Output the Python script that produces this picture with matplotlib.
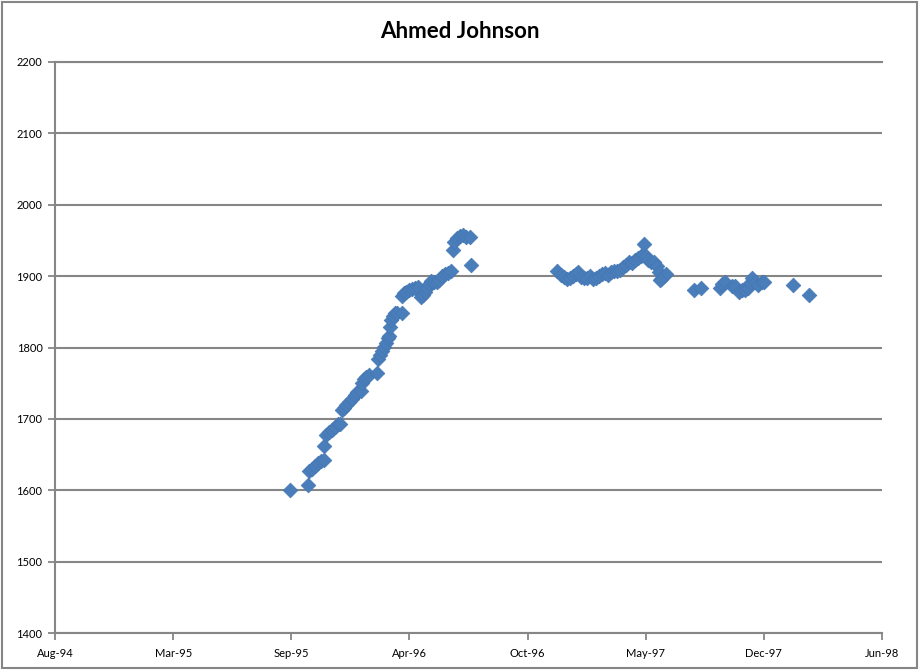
import matplotlib
matplotlib.use("Agg")
import matplotlib.pyplot as plt
import matplotlib.dates as mdates
from matplotlib.patches import Rectangle
import datetime as dt

plt.rcParams['font.family'] = ['Lato', 'DejaVu Sans']

title = "Ahmed Johnson"

dates = [
    "1995-09-22", "1995-10-22", "1995-10-24", "1995-10-29", "1995-11-03", "1995-11-08",
    "1995-11-13", "1995-11-18", "1995-11-18", "1995-11-22", "1995-11-27", "1995-12-02",
    "1995-12-07", "1995-12-12", "1995-12-15", "1995-12-19", "1995-12-22", "1995-12-26",
    "1995-12-31", "1996-01-05", "1996-01-10", "1996-01-13", "1996-01-20", "1996-01-22",
    "1996-01-25", "1996-01-28", "1996-02-03", "1996-02-16", "1996-02-18", "1996-02-21",
    "1996-02-25", "1996-02-28", "1996-03-02", "1996-03-06", "1996-03-07", "1996-03-09",
    "1996-03-11", "1996-03-14", "1996-03-18", "1996-03-21", "1996-03-29", "1996-03-29",
    "1996-04-02", "1996-04-05", "1996-04-10", "1996-04-15", "1996-04-20", "1996-04-26",
    "1996-05-01", "1996-05-04", "1996-05-07", "1996-05-11", "1996-05-14", "1996-05-18",
    "1996-05-23", "1996-05-28", "1996-05-31", "1996-06-05", "1996-06-10", "1996-06-15",
    "1996-06-20", "1996-06-24", "1996-06-25", "1996-07-01", "1996-07-06", "1996-07-11",
    "1996-07-16", "1996-07-22", "1996-07-24",
    "1996-12-17", "1996-12-24", "1996-12-29", "1997-01-03", "1997-01-08", "1997-01-13",
    "1997-01-18", "1997-01-21", "1997-01-26", "1997-02-01", "1997-02-06", "1997-02-11",
    "1997-02-16", "1997-02-21", "1997-02-26", "1997-03-03", "1997-03-08", "1997-03-13",
    "1997-03-18", "1997-03-23", "1997-03-28", "1997-04-02", "1997-04-08", "1997-04-13",
    "1997-04-18", "1997-04-23", "1997-04-28", "1997-05-03", "1997-05-08", "1997-05-11",
    "1997-05-13", "1997-05-17", "1997-05-20", "1997-05-25", "1997-05-30", "1997-06-04",
    "1997-06-08", "1997-06-11", "1997-06-16", "1997-06-19", "1997-06-10",
    "1997-08-06", "1997-08-18", "1997-09-19", "1997-09-22", "1997-09-27", "1997-10-09",
    "1997-10-14", "1997-10-21", "1997-10-26", "1997-10-31", "1997-11-05", "1997-11-09",
    "1997-11-12", "1997-11-17", "1997-11-22", "1997-11-29", "1997-12-02",
    "1998-01-20", "1998-02-16",
]

ratings = [
    1600, 1608, 1627, 1630, 1634, 1638,
    1641, 1642, 1662, 1677, 1682, 1684,
    1689, 1693, 1693, 1712, 1715, 1719,
    1724, 1728, 1733, 1738, 1739, 1750,
    1756, 1759, 1761, 1764, 1784, 1789,
    1795, 1801, 1806, 1813, 1816, 1829,
    1838, 1844, 1848, 1848, 1848, 1872,
    1876, 1878, 1881, 1882, 1883, 1885,
    1871, 1874, 1878, 1883, 1889, 1893,
    1892, 1892, 1895, 1900, 1903, 1904,
    1907, 1937, 1948, 1953, 1956, 1958,
    1955, 1955, 1916,
    1907, 1902, 1899, 1896, 1897, 1900,
    1903, 1906, 1899, 1897, 1897, 1900,
    1896, 1897, 1900, 1903, 1904, 1902,
    1906, 1907, 1907, 1909, 1913, 1916,
    1920, 1918, 1923, 1925, 1928, 1930,
    1945, 1928, 1923, 1920, 1920, 1914,
    1906, 1896, 1900, 1903, 1894,
    1881, 1883, 1883, 1889, 1892, 1886,
    1886, 1878, 1881, 1881, 1883, 1890,
    1897, 1892, 1888, 1892, 1892,
    1888, 1874,
]

y_ticks = [1400, 1500, 1600, 1700, 1800, 1900, 2000, 2100, 2200]

axis_start = dt.date(1994, 8, 20)
tick_step_days = 200
n_ticks = 8

x = [dt.date.fromisoformat(d) for d in dates]

fig = plt.figure(figsize=(9.2, 6.71), dpi=100)
ax = fig.add_axes([55 / 920, 38 / 671, 827 / 920, 571 / 671])

grid_color = '#868686'
mark_color = '#4a7ebb'

ax.scatter(x, ratings, marker='D', s=56, color=mark_color, edgecolors='#4477b4',
           linewidths=0.5, zorder=3)

xticks = [axis_start + dt.timedelta(days=tick_step_days * k) for k in range(n_ticks)]
ax.set_xlim(mdates.date2num(xticks[0]), mdates.date2num(xticks[-1]))
ax.set_xticks(xticks)
ax.xaxis.set_major_formatter(mdates.DateFormatter('%b-%y'))
ax.set_ylim(1400, 2200)
ax.set_yticks(y_ticks)

ax.grid(axis='y', color=grid_color, linewidth=1.5, zorder=1)
ax.set_axisbelow(True)
ax.spines['right'].set_visible(False)
for side in ['left', 'bottom', 'top']:
    ax.spines[side].set_color(grid_color)
    ax.spines[side].set_linewidth(1.5)

ax.tick_params(axis='both', direction='out', length=5, width=1.3, color=grid_color,
               labelsize=8, labelcolor='black')
ax.tick_params(axis='x', pad=6)
ax.tick_params(axis='y', pad=4)

fig.text(0.5, 1 - 31 / 671, title, ha='center', va='center', fontsize=16,
         fontweight='bold', color='black')

fig.patches.append(Rectangle((2 / 920, 3 / 671), 915 / 920, 666 / 671,
                             transform=fig.transFigure, fill=False,
                             edgecolor=grid_color, linewidth=1.5))

fig.savefig('out.png', dpi=100)
